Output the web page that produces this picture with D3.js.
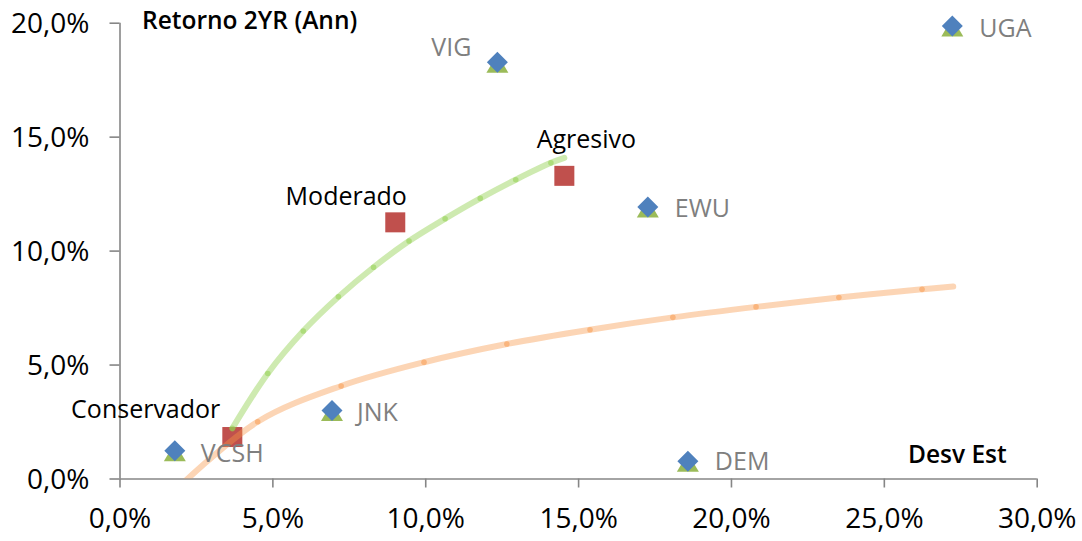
<!DOCTYPE html>
<html>
<head>
<meta charset="utf-8">
<script src="https://cdn.jsdelivr.net/npm/d3@7/dist/d3.min.js"></script>
<style>
  html, body { margin: 0; padding: 0; background: #fff; }
  svg { display: block; font-family: "Open Sans", sans-serif; }
</style>
</head>
<body>
<svg id="chart" width="1082" height="541"></svg>
<script>
// ---- Data (values in %) ----
const assetNames = ["VCSH", "JNK", "VIG", "EWU", "DEM", "UGA"];
const assetRisk   = [1.81, 6.95, 12.36, 17.28, 18.59, 27.24];
const assetReturn = [1.22, 2.98, 18.27, 11.91, 0.76, 19.86];

const portfolioNames  = ["Conservador", "Moderado", "Agresivo"];
const portfolioRisk   = [3.69, 9.02, 14.55];
const portfolioReturn = [1.82, 11.24, 13.28];

const frontierRisk   = [3.69, 4.85, 6.01, 7.16, 8.31, 9.47, 10.65, 11.80, 12.96, 14.11, 14.55];
const frontierReturn = [2.20, 4.61, 6.47, 7.97, 9.27, 10.42, 11.40, 12.29, 13.11, 13.85, 14.07];

const trendRisk   = [1.80, 4.52, 7.25, 9.96, 12.67, 15.39, 18.10, 20.82, 23.53, 26.25, 27.27];
const trendReturn = [-0.55, 2.49, 4.06, 5.10, 5.90, 6.53, 7.07, 7.53, 7.94, 8.30, 8.42];

const xTicks = [0, 5, 10, 15, 20, 25, 30];
const yTicks = [0, 5, 10, 15, 20];
const xTitle = "Desv Est";
const yTitle = "Retorno 2YR (Ann)";

// ---- Layout ----
const svg = d3.select("#chart");
const x = d3.scaleLinear().domain([0, 30]).range([119.5, 1036.7]);
const y = d3.scaleLinear().domain([0, 20]).range([478.5, 22.7]);
const fmt = v => d3.format(".1f")(v).replace(".", ",") + "%";

// label placement (layout, not data)
const assetLabelPos = {
  VCSH: { dx: 26, dy: 11, anchor: "start" },
  JNK:  { dx: 25, dy: 10, anchor: "start" },
  VIG:  { dx: -26, dy: -6, anchor: "end" },
  EWU:  { dx: 27, dy: 10, anchor: "start" },
  DEM:  { dx: 27, dy: 9, anchor: "start" },
  UGA:  { dx: 27, dy: 11, anchor: "start" }
};
const portfolioLabelPos = {
  Conservador: { dx: -12, dy: -19, anchor: "end" },
  Moderado:    { dx: -49, dy: -17, anchor: "middle" },
  Agresivo:    { dx: 22, dy: -27.5, anchor: "middle" }
};

// ---- Axes ----
const axisColor = "#868686";
const xAxis = d3.axisBottom(x).tickValues(xTicks).tickFormat(fmt).tickSize(9).tickPadding(21);
const gx = svg.append("g").attr("transform", `translate(0,${y(0)})`).call(xAxis);
const yAxis = d3.axisLeft(y).tickValues(yTicks).tickFormat(fmt).tickSize(10).tickPadding(20);
const gy = svg.append("g").attr("transform", `translate(${x(0)},0)`).call(yAxis);

[gx, gy].forEach(g => {
  g.select(".domain").attr("stroke", axisColor).attr("stroke-width", 1.6);
  g.selectAll(".tick line").attr("stroke", axisColor).attr("stroke-width", 1.6);
  g.selectAll(".tick text").attr("fill", "#000").attr("font-size", 28)
    .attr("font-family", "'Open Sans', sans-serif");
});
gx.select(".domain").attr("d", `M${x(0)},0.5H${x(30)}`);
gy.select(".domain").attr("d", `M0.5,${y(0)}V${y(20)}`);
gy.selectAll(".tick text").attr("dy", "0.36em");

// ---- Clip ----
svg.append("clipPath").attr("id", "plot")
  .append("rect").attr("x", x(0)).attr("y", 0).attr("width", x(30) - x(0) + 20).attr("height", y(0) - 0);

// ---- Portfolios (squares) ----
const ports = portfolioNames.map((n, i) => ({ n, x: portfolioRisk[i], y: portfolioReturn[i] }));
svg.append("g").selectAll("rect").data(ports).join("rect")
  .attr("x", d => x(d.x) - 10).attr("y", d => y(d.y) - 10)
  .attr("width", 20).attr("height", 20)
  .attr("fill", "#c0504d");

// ---- Curves ----
const line = d3.line().x(d => x(d[0])).y(d => y(d[1])).curve(d3.curveCatmullRom.alpha(0.5));
const trend = trendRisk.map((v, i) => [v, trendReturn[i]]);
const front = frontierRisk.map((v, i) => [v, frontierReturn[i]]);

const curves = svg.append("g").attr("clip-path", "url(#plot)");
curves.append("path").datum(trend).attr("d", line)
  .attr("fill", "none").attr("stroke", "#f79646").attr("stroke-opacity", 0.4)
  .attr("stroke-width", 6).attr("stroke-linecap", "round");
curves.selectAll("circle.t").data(trend.slice(0, -1)).join("circle").attr("class", "t")
  .attr("cx", d => x(d[0])).attr("cy", d => y(d[1])).attr("r", 2.8)
  .attr("fill", "#f79646").attr("fill-opacity", 0.5);

curves.append("path").datum(front).attr("d", line)
  .attr("fill", "none").attr("stroke", "#92d050").attr("stroke-opacity", 0.45)
  .attr("stroke-width", 6).attr("stroke-linecap", "round");
curves.selectAll("circle.f").data(front.slice(0, -1)).join("circle").attr("class", "f")
  .attr("cx", d => x(d[0])).attr("cy", d => y(d[1])).attr("r", 2.8)
  .attr("fill", "#92d050").attr("fill-opacity", 0.55);

// ---- Assets (triangle + diamond) ----
const assets = assetNames.map((n, i) => ({ n, x: assetRisk[i], y: assetReturn[i] }));
const ga = svg.append("g");
ga.selectAll("path.tri").data(assets).join("path").attr("class", "tri")
  .attr("d", d => {
    const cx = x(d.x), cy = y(d.y);
    return `M${cx - 11},${cy + 10.5}L${cx + 11},${cy + 10.5}L${cx},${cy - 8}Z`;
  })
  .attr("fill", "#9bbb59");
ga.selectAll("path.dia").data(assets).join("path").attr("class", "dia")
  .attr("d", d => {
    const cx = x(d.x), cy = y(d.y);
    return `M${cx},${cy - 10.5}L${cx + 10.5},${cy}L${cx},${cy + 10.5}L${cx - 10.5},${cy}Z`;
  })
  .attr("fill", "#4f81bd");

// ---- Labels ----
svg.append("g").selectAll("text").data(assets).join("text")
  .attr("x", d => x(d.x) + assetLabelPos[d.n].dx)
  .attr("y", d => y(d.y) + assetLabelPos[d.n].dy)
  .attr("text-anchor", d => assetLabelPos[d.n].anchor)
  .attr("font-size", 25).attr("fill", "#7f7f7f")
  .text(d => d.n);

svg.append("g").selectAll("text").data(ports).join("text")
  .attr("x", d => x(d.x) + portfolioLabelPos[d.n].dx)
  .attr("y", d => y(d.y) + portfolioLabelPos[d.n].dy)
  .attr("text-anchor", d => portfolioLabelPos[d.n].anchor)
  .attr("font-size", 25).attr("fill", "#000")
  .text(d => d.n);

svg.append("text").attr("x", 142).attr("y", 28.5)
  .attr("font-size", 24.5).attr("font-weight", 600).attr("fill", "#000")
  .text(yTitle);
svg.append("text").attr("x", 908).attr("y", 462.7)
  .attr("font-size", 24.5).attr("font-weight", 600).attr("fill", "#000")
  .text(xTitle);
</script>
</body>
</html>
